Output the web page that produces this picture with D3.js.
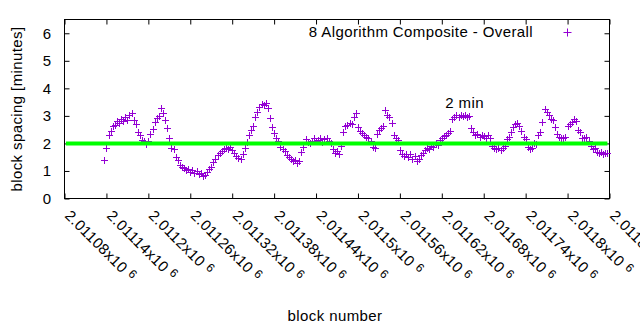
<!DOCTYPE html>
<html>
  <head>
    <meta charset="UTF-8" />
    <style>
      body { margin: 0; background: #fff; }
      svg { display: block; font-family: "Liberation Sans", Arial, sans-serif; }
      text { letter-spacing: 0.4px; }
      .tick line { stroke: #000; }
      .tick text { fill: #000; font-size: 15px; }
    </style>
  </head>
  <body>
    <svg></svg>
    <script src="https://d3js.org/d3.v7.min.js"></script>
    <script>
      let width = 640,
        height = 330;

      // first block of the series and the gap between samples
      const blockStart = 2011137;
      const blockStep = 3;

      // block spacing in minutes, one per sample
      const spacing = [
        1.38, 1.85, 2.3, 2.45, 2.62, 2.68, 2.8, 2.75, 2.88, 2.82,
        2.95, 2.85, 3.02, 3.1, 2.85, 2.7, 2.42, 2.3, 2.12, 2.08,
        1.98, 2.1, 2.35, 2.52, 2.78, 2.92, 2.98, 3.28, 3.1, 2.85,
        2.55, 2.2, 1.85, 1.78, 1.52, 1.38, 1.22, 1.15, 1.12, 1.05,
        1.08, 0.98, 1.02, 0.92, 1.0, 0.88, 0.93, 0.8, 0.85, 0.98,
        1.08, 1.15, 1.32, 1.45, 1.58, 1.65, 1.72, 1.78, 1.85, 1.8,
        1.88, 1.75, 1.65, 1.55, 1.48, 1.42, 1.62, 1.82, 2.05, 2.32,
        2.5, 2.65, 2.95, 3.15, 3.32, 3.42, 3.38, 3.45, 3.3, 2.92,
        2.6, 2.38, 2.2, 2.08, 1.88, 1.8, 1.72, 1.58, 1.5, 1.42,
        1.35, 1.38, 1.3, 1.35, 1.7, 1.88, 2.15, 2.05, 2.0, 2.1,
        2.18, 2.08, 2.12, 2.2, 2.05, 2.15, 2.18, 2.08, 2.0, 1.8,
        1.65, 1.72, 1.62, 1.9, 2.4, 2.62, 2.68, 2.75, 2.7, 2.95,
        3.12, 2.6, 2.45, 2.38, 2.3, 2.25, 2.18, 2.1, 1.88, 1.85,
        2.35, 2.48, 2.55, 2.62, 3.2, 3.05, 2.95, 2.75, 2.3, 2.18,
        2.12, 1.75, 1.62, 1.55, 1.6, 1.52, 1.6, 1.45, 1.55, 1.35,
        1.42, 1.58, 1.65, 1.75, 1.82, 1.8, 1.92, 1.88, 2.0, 1.95,
        2.12, 2.2, 2.28, 2.32, 2.38, 2.45, 2.9, 2.95, 3.02, 2.95,
        3.05, 2.98, 3.02, 2.95, 3.0, 2.55, 2.4, 2.3, 2.35, 2.25,
        2.32, 2.28, 2.2, 2.3, 2.18, 1.9, 1.82, 1.78, 1.85, 1.75,
        1.82, 1.9, 2.15, 2.25, 2.4, 2.58, 2.7, 2.75, 2.62, 2.45,
        2.25, 2.15, 1.88, 1.78, 1.85, 2.0, 1.98, 2.3, 2.42, 2.78,
        3.25, 3.15, 3.05, 2.9, 2.85, 2.6, 2.35, 2.22, 2.18, 2.2,
        2.25, 2.62, 2.7, 2.78, 2.88, 2.82, 2.5, 2.4, 2.2, 2.18,
        2.22, 2.1, 1.9, 1.8, 1.85, 1.7, 1.65, 1.68, 1.62, 1.66,
        1.64,
      ];

      const xTicks = [
        2011080, 2011140, 2011200, 2011260, 2011320, 2011380, 2011440,
        2011500, 2011560, 2011620, 2011680, 2011740, 2011800, 2011860,
      ];
      const yTicks = [0, 1, 2, 3, 4, 5, 6];

      const target = 2; // reference line, minutes
      const targetFrom = 2011082,
        targetTo = 2011857;

      const seriesName = "8 Algorithm Composite - Overall";
      const note = { block: 2011625, value: 3.3, text: "2 min" };

      let svg = d3.select("svg").attr("width", width).attr("height", height);

      let x = d3.scaleLinear().domain([2011080, 2011860]).range([64.5, 609.5]);
      let y = d3.scaleLinear().domain([0, 6.5]).range([198.5, 19.5]);

      let points = spacing.map((v, i) => ({ block: blockStart + i * blockStep, v: v }));

      // tick marks inside the frame, on all four sides
      let xAxis = svg
        .append("g")
        .attr("transform", "translate(0," + y(0) + ")")
        .call(d3.axisBottom(x).tickValues(xTicks).tickSizeInner(-5).tickSizeOuter(0));
      svg
        .append("g")
        .attr("transform", "translate(0," + y(6.5) + ")")
        .call(d3.axisTop(x).tickValues(xTicks).tickSizeInner(-5).tickSizeOuter(0).tickFormat(""));
      svg
        .append("g")
        .attr("transform", "translate(" + x(2011080) + ",0)")
        .call(
          d3.axisLeft(y).tickValues(yTicks).tickFormat(d3.format("d"))
            .tickSizeInner(-5).tickSizeOuter(0).tickPadding(13)
        );
      svg
        .append("g")
        .attr("transform", "translate(" + x(2011860) + ",0)")
        .call(d3.axisRight(y).tickValues(yTicks).tickSizeInner(-5).tickSizeOuter(0).tickFormat(""));
      svg.selectAll(".domain").remove();
      svg.selectAll(".tick text").attr("font-family", null).attr("font-size", null);

      // rotated x labels like "2.01108x10 6"
      xAxis
        .selectAll(".tick text")
        .attr("x", 0)
        .attr("y", 0)
        .attr("dy", 0)
        .attr("text-anchor", "start")
        .attr("transform", "translate(-1,18) rotate(45)")
        .text(null)
        .each(function (d) {
          let t = d3.select(this);
          t.append("tspan").text(String(+(d / 1e6).toFixed(5)) + "x10 ");
          t.append("tspan").attr("font-size", 12).attr("dy", -4).text("6");
        });

      // frame
      svg
        .append("rect")
        .attr("x", x(2011080))
        .attr("y", y(6.5))
        .attr("width", x(2011860) - x(2011080))
        .attr("height", y(0) - y(6.5))
        .attr("fill", "none")
        .attr("stroke", "#000");

      // data
      svg
        .append("g")
        .selectAll("path")
        .data(points)
        .enter()
        .append("path")
        .attr("d", "M-3.5,0H3.5M0,-3.5V3.5")
        .attr("transform", (d) => "translate(" + (Math.round(x(d.block)) + 0.5) + "," + (Math.round(y(d.v)) + 0.5) + ")")
        .attr("stroke", "#9400d3")
        .attr("fill", "none");

      // 2 minute target line
      svg
        .append("line")
        .attr("x1", x(targetFrom))
        .attr("x2", x(targetTo))
        .attr("y1", y(target))
        .attr("y2", y(target))
        .attr("stroke", "#00ff00")
        .attr("stroke-width", 4);

      svg
        .append("text")
        .attr("x", x(note.block))
        .attr("y", y(note.value))
        .attr("font-size", 15)
        .text(note.text);

      // legend
      svg
        .append("text")
        .attr("x", 533)
        .attr("y", 37)
        .attr("text-anchor", "end")
        .attr("font-size", 15)
        .text(seriesName);
      svg
        .append("path")
        .attr("d", "M-4,0H4M0,-4V4")
        .attr("transform", "translate(567.5,32.5)")
        .attr("stroke", "#9400d3");

      // axis titles
      svg
        .append("text")
        .attr("transform", "translate(22," + (y(0) + y(6.5)) / 2 + ") rotate(-90)")
        .attr("text-anchor", "middle")
        .attr("font-size", 15)
        .text("block spacing [minutes]");
      svg
        .append("text")
        .attr("x", (x(2011080) + x(2011860)) / 2 - 2)
        .attr("y", 321)
        .attr("text-anchor", "middle")
        .attr("font-size", 15)
        .text("block number");
    </script>
  </body>
</html>
